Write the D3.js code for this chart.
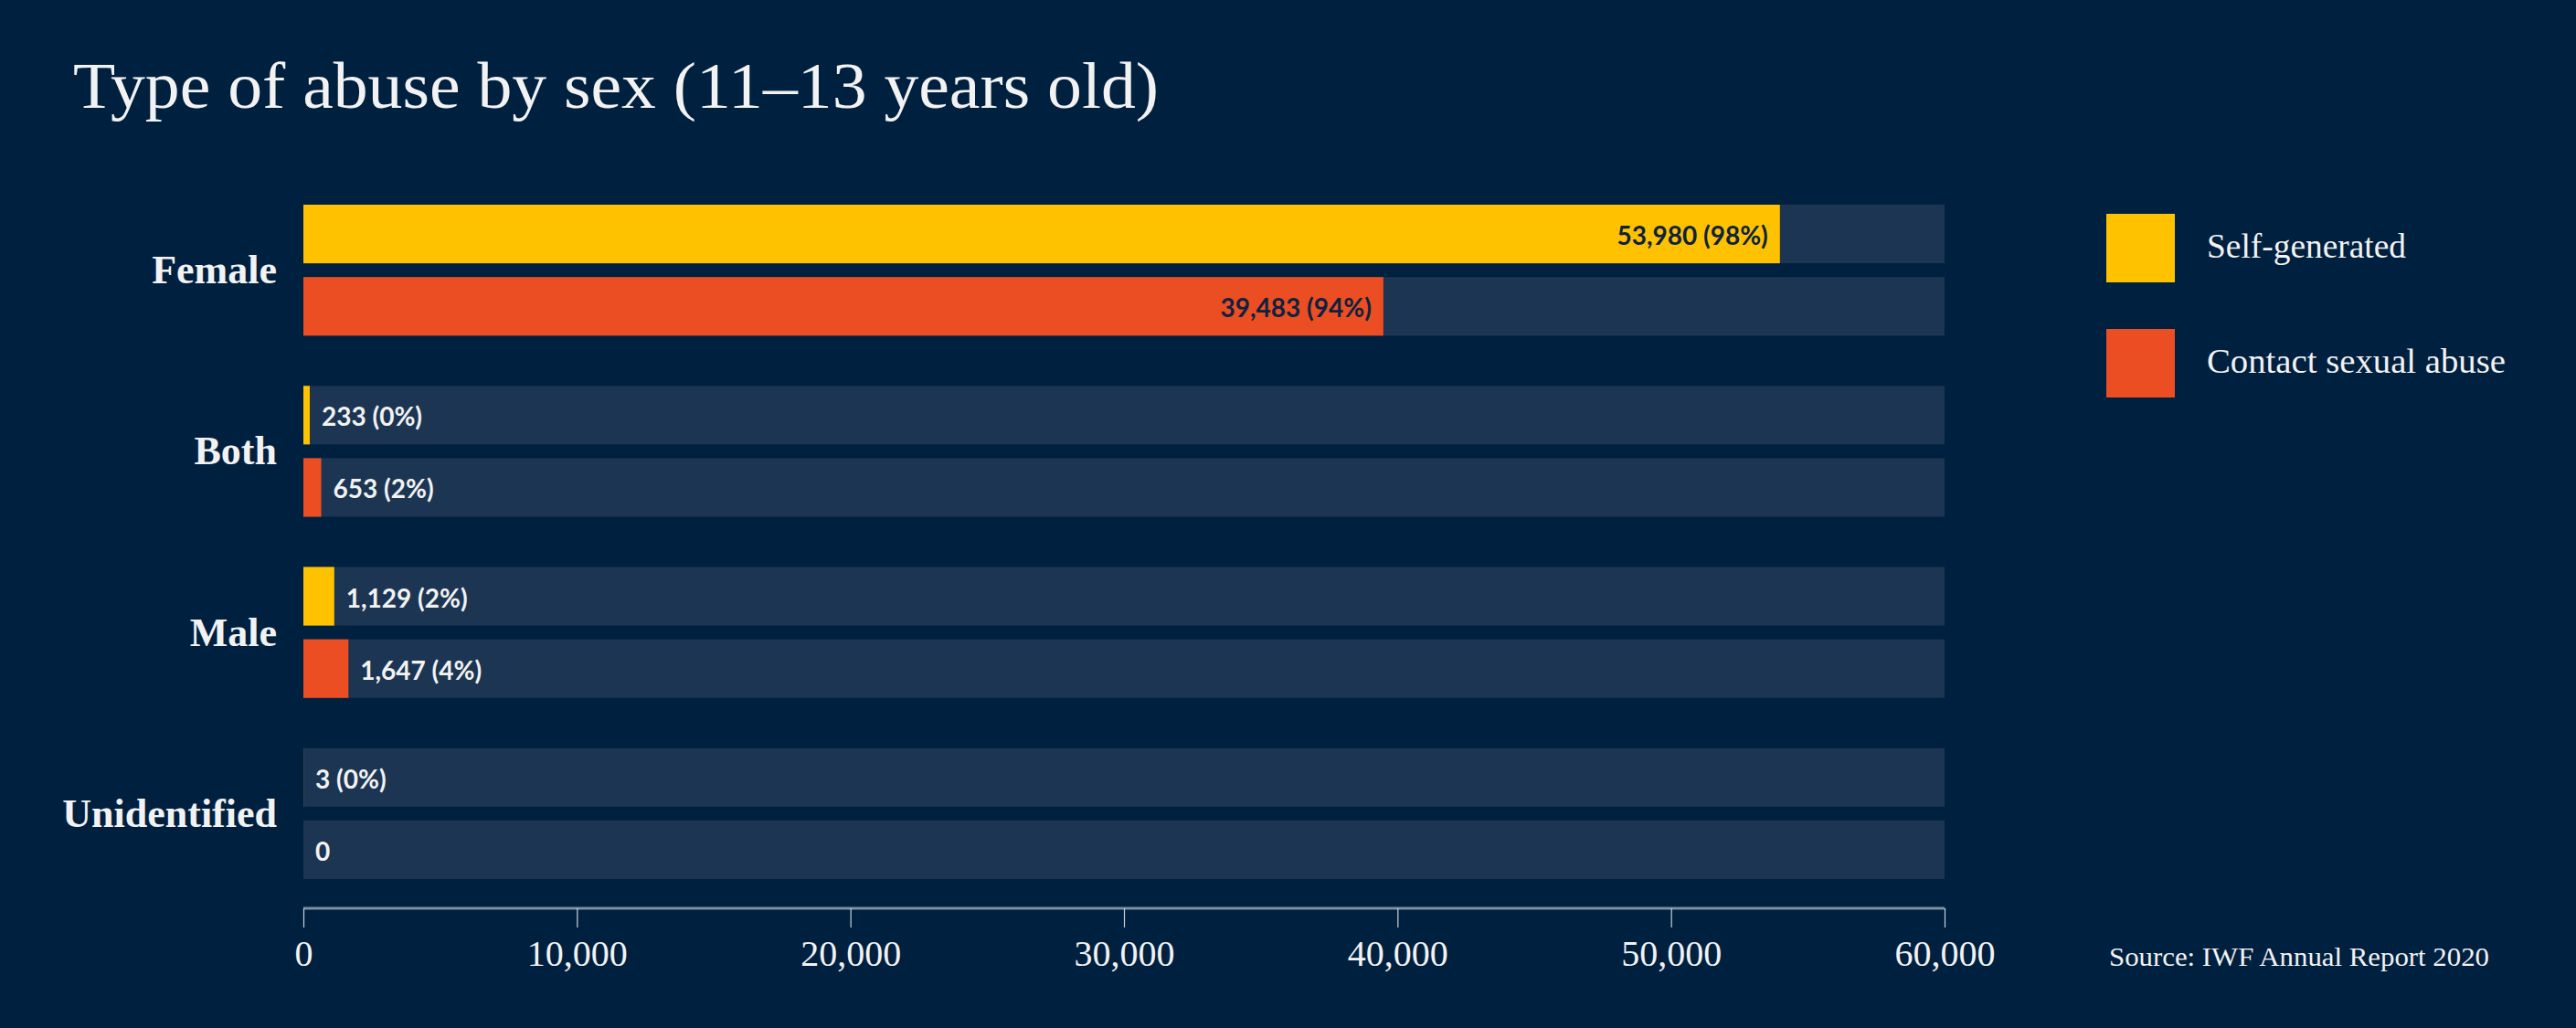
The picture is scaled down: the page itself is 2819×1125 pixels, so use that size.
<!DOCTYPE html>
<html>
<head>
<meta charset="utf-8">
<script src="https://cdn.jsdelivr.net/npm/d3@7"></script>
<style>
  html, body { margin: 0; padding: 0; background: #00203f; }
  svg { display: block; }
</style>
</head>
<body>
<svg id="chart" width="2819" height="1125"></svg>
<script>
// ---- data ----
const categories = ["Female", "Both", "Male", "Unidentified"];
const seriesNames = ["Self-generated", "Contact sexual abuse"];
const selfGenerated = [53980, 233, 1129, 3];
const contactAbuse = [39483, 653, 1647, 0];
const selfPct = ["98%", "0%", "2%", "0%"];
const contactPct = ["94%", "2%", "4%", null];
const xTicks = [0, 10000, 20000, 30000, 40000, 50000, 60000];
const titleText = "Type of abuse by sex (11\u201313 years old)";
const sourceText = "Source: IWF Annual Report 2020";

// ---- style ----
const BG = "#00203f", TRACK = "#1b3553", YELLOW = "#ffc200", RED = "#eb4e22";
const TEXT = "#f2f2f2", DARK = "#0d2240";
const colors = [YELLOW, RED];
const SERIF = "'Liberation Serif', 'DejaVu Serif', serif";
const SANS = "Lato, 'Open Sans', sans-serif";

const svg = d3.select("#chart");
svg.append("rect").attr("width", 2819).attr("height", 1125).attr("fill", BG);

const x = d3.scaleLinear().domain([0, 60000]).range([332, 2128]);
const y = d3.scaleBand().domain(categories).range([224, 962]).paddingInner(0.277).paddingOuter(0);
const ySub = d3.scaleBand().domain(seriesNames).range([0, y.bandwidth()]).paddingInner(0.19).paddingOuter(0);

// title
svg.append("text").attr("x", 80).attr("y", 118)
  .attr("font-family", SERIF).attr("font-size", 72).attr("fill", TEXT)
  .attr("textLength", 1188).attr("lengthAdjust", "spacingAndGlyphs")
  .text(titleText);

const rows = [];
categories.forEach((c, i) => {
  rows.push({cat: c, s: 0, v: selfGenerated[i], pct: selfPct[i]});
  rows.push({cat: c, s: 1, v: contactAbuse[i], pct: contactPct[i]});
});

const g = svg.append("g");
// tracks
g.selectAll("rect.track").data(rows).join("rect").attr("class", "track")
  .attr("x", x(0)).attr("width", x(60000) - x(0))
  .attr("y", d => y(d.cat) + ySub(seriesNames[d.s]))
  .attr("height", ySub.bandwidth()).attr("fill", TRACK);
// bars
g.selectAll("rect.bar").data(rows).join("rect").attr("class", "bar")
  .attr("x", x(0)).attr("width", d => x(d.v) - x(0))
  .attr("y", d => y(d.cat) + ySub(seriesNames[d.s]))
  .attr("height", ySub.bandwidth()).attr("fill", d => colors[d.s]);
// value labels
const fmt = d3.format(",");
g.selectAll("text.val").data(rows).join("text").attr("class", "val")
  .attr("font-family", SANS).attr("font-weight", 700).attr("font-size", 28)
  .attr("dominant-baseline", "central")
  .attr("y", d => y(d.cat) + ySub(seriesNames[d.s]) + ySub.bandwidth() / 2 + 1)
  .attr("x", d => (x(d.v) - x(0) > 300) ? x(d.v) - 13 : x(d.v) + 13)
  .attr("text-anchor", d => (x(d.v) - x(0) > 300) ? "end" : "start")
  .attr("fill", d => (x(d.v) - x(0) > 300) ? DARK : TEXT)
  .text(d => d.pct ? `${fmt(d.v)} (${d.pct})` : fmt(d.v));

// category labels
svg.selectAll("text.cat").data(categories).join("text").attr("class", "cat")
  .attr("x", 303).attr("y", d => y(d) + y.bandwidth() / 2)
  .attr("dy", "0.33em")
  .attr("text-anchor", "end").attr("font-family", SERIF).attr("font-weight", 700)
  .attr("font-size", 44).attr("fill", TEXT).text(d => d);

// x axis
const axis = svg.append("g").attr("transform", "translate(0,994)")
  .call(d3.axisBottom(x).tickValues(xTicks).tickFormat(d3.format(",")).tickSize(21).tickPadding(14));
axis.select(".domain").attr("stroke", "#7d8f9f").attr("stroke-width", 3).attr("d", `M${x(0)},0H${x(60000)}`);
axis.selectAll(".tick line").attr("stroke", "#c9d1d8").attr("stroke-width", 1.2);
axis.selectAll(".tick text").attr("font-family", SERIF).attr("font-size", 40).attr("fill", TEXT);

// legend
const legY = [234, 360];
const legWidths = [218, 327];
const leg = svg.selectAll("g.leg").data(seriesNames).join("g").attr("class", "leg");
leg.append("rect").attr("x", 2305).attr("y", (d, i) => legY[i]).attr("width", 75).attr("height", 75)
  .attr("fill", (d, i) => colors[i]);
leg.append("text").attr("x", 2415).attr("y", (d, i) => legY[i] + 48)
  .attr("font-family", SERIF).attr("font-size", 37).attr("fill", TEXT)
  .attr("textLength", (d, i) => legWidths[i]).attr("lengthAdjust", "spacingAndGlyphs")
  .text(d => d);

// source
svg.append("text").attr("x", 2308).attr("y", 1057)
  .attr("font-family", SERIF).attr("font-size", 29).attr("fill", TEXT)
  .attr("textLength", 416).attr("lengthAdjust", "spacingAndGlyphs")
  .text(sourceText);
</script>
</body>
</html>
